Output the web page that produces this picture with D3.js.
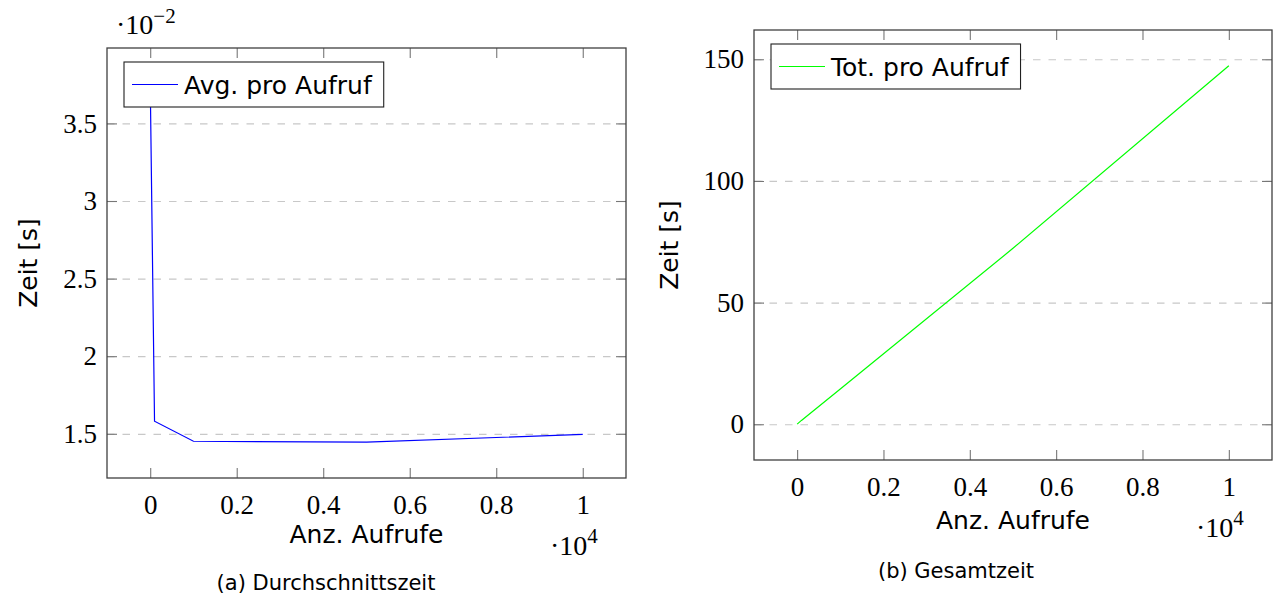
<!DOCTYPE html>
<html>
<head>
<meta charset="utf-8">
<script src="https://cdn.jsdelivr.net/npm/d3@7"></script>
<style>
  body { margin: 0; background: #fff; }
  svg { display: block; }
</style>
</head>
<body>
<script>
// measurement runs: number of calls and timings
const callCounts = [1, 100, 1000, 5000, 10000];
const avgPerCall = [0.03755, 0.01581, 0.01452, 0.01446, 0.01496];   // seconds
const totPerCall = [0.0375, 1.58, 14.52, 72.3, 147.3];               // seconds

// tick values
const xTicks = [0, 2000, 4000, 6000, 8000, 10000];
const avgTicks = [0.015, 0.02, 0.025, 0.03, 0.035];
const totTicks = [0, 50, 100, 150];

const SERIF = 'Liberation Serif';
const SANS = 'DejaVu Sans';

const W = 1274, H = 606;
const svg = d3.select('body').append('svg').attr('width', W).attr('height', H);

// pgfplots-style "enlarge limits" by 10%
const enlarge = ([a, b]) => [a - 0.1 * (b - a), b + 0.1 * (b - a)];

const panels = [
  {
    left: 107, right: 626, top: 48, bottom: 478,
    values: avgPerCall, ticks: avgTicks, fmt: d => String(+(d * 100).toFixed(2)),
    color: '#0000ff', legend: 'Avg. pro Aufruf', caption: '(a) Durchschnittszeit',
    yLabelX: 37, xLabelY: 543, xExp: [550, 555], yExp: [116, 34], captionX: 326, captionY: 590
  },
  {
    left: 754, right: 1272, top: 30, bottom: 460,
    values: totPerCall, ticks: totTicks, fmt: d => String(d),
    color: '#00ff00', legend: 'Tot. pro Aufruf', caption: '(b) Gesamtzeit',
    yLabelX: 678, xLabelY: 529, xExp: [1196, 537], yExp: null, captionX: 956, captionY: 578
  }
];

function drawPanel(p) {
  const w = p.right - p.left, h = p.bottom - p.top;
  const x = d3.scaleLinear().domain(enlarge(d3.extent(callCounts))).range([p.left, p.right]);
  const y = d3.scaleLinear().domain(enlarge(d3.extent(p.values))).range([p.bottom, p.top]);

  // dashed horizontal grid
  const grid = svg.append('g')
    .attr('transform', `translate(${p.left},0)`)
    .call(d3.axisLeft(y).tickValues(p.ticks).tickSize(-w).tickFormat(''));
  grid.select('.domain').remove();
  grid.selectAll('line').attr('stroke', '#c8c8c8').attr('stroke-width', 1.2).attr('stroke-dasharray', '7.5 8');

  // data line
  const line = d3.line().x((d, i) => x(callCounts[i])).y(d => y(d));
  svg.append('path')
    .datum(p.values)
    .attr('fill', 'none')
    .attr('stroke', p.color)
    .attr('stroke-width', 1.2)
    .attr('d', line);

  // inward ticks on all four sides
  const tickStyle = g => {
    g.select('.domain').remove();
    g.selectAll('line').attr('stroke', '#777').attr('stroke-width', 1.1);
    g.selectAll('text')
      .style('font-family', SERIF)
      .style('font-size', '27px')
      .attr('fill', '#000');
  };
  svg.append('g').attr('transform', `translate(0,${p.bottom})`)
    .call(d3.axisBottom(x).tickValues(xTicks).tickSize(-10).tickPadding(10)
      .tickFormat(d => String(+(d / 1e4).toFixed(1))))
    .call(tickStyle)
    .selectAll('text').attr('dy', '0.95em');
  svg.append('g').attr('transform', `translate(0,${p.top})`)
    .call(d3.axisTop(x).tickValues(xTicks).tickSize(-10).tickFormat(''))
    .call(tickStyle);
  svg.append('g').attr('transform', `translate(${p.left},0)`)
    .call(d3.axisLeft(y).tickValues(p.ticks).tickSize(-10).tickPadding(10).tickFormat(p.fmt))
    .call(tickStyle);
  svg.append('g').attr('transform', `translate(${p.right},0)`)
    .call(d3.axisRight(y).tickValues(p.ticks).tickSize(-10).tickFormat(''))
    .call(tickStyle);

  // frame
  svg.append('rect')
    .attr('x', p.left).attr('y', p.top).attr('width', w).attr('height', h)
    .attr('fill', 'none').attr('stroke', '#404040').attr('stroke-width', 1.3);

  // legend
  const lg = svg.append('g').attr('transform', `translate(${p.left + 17},${p.top + 14})`);
  const box = lg.append('rect').attr('height', 45).attr('fill', '#fff')
    .attr('stroke', '#202020').attr('stroke-width', 1.1);
  lg.append('line').attr('x1', 8).attr('x2', 54).attr('y1', 22.5).attr('y2', 22.5)
    .attr('stroke', p.color).attr('stroke-width', 1.2);
  const lt = lg.append('text').style('font-family', SANS).attr('x', 60).attr('y', 31.5)
    .style('font-size', '25px').text(p.legend);
  box.attr('width', 60 + lt.node().getComputedTextLength() + 12);

  // axis labels
  svg.append('text').style('font-family', SANS).style('font-size', '25px')
    .attr('text-anchor', 'middle')
    .attr('transform', `translate(${p.yLabelX},${(p.top + p.bottom) / 2}) rotate(-90)`)
    .text('Zeit [s]');
  svg.append('text').style('font-family', SANS).style('font-size', '25px')
    .attr('text-anchor', 'middle')
    .attr('x', (p.left + p.right) / 2).attr('y', p.xLabelY)
    .text('Anz. Aufrufe');

  // scale exponents
  const ex = svg.append('text').style('font-family', SERIF).style('font-size', '28px')
    .attr('x', p.xExp[0]).attr('y', p.xExp[1]);
  ex.append('tspan').text('\u00b710');
  ex.append('tspan').style('font-size', '21px').attr('dy', -12).text('4');
  if (p.yExp) {
    const ey = svg.append('text').style('font-family', SERIF).style('font-size', '28px')
      .attr('x', p.yExp[0]).attr('y', p.yExp[1]);
    ey.append('tspan').text('\u00b710');
    ey.append('tspan').style('font-size', '21px').attr('dy', -11).text('\u22122');
  }

  // caption
  svg.append('text').style('font-family', SANS).style('font-size', '21px')
    .attr('text-anchor', 'middle')
    .attr('x', p.captionX).attr('y', p.captionY)
    .text(p.caption);
}

panels.forEach(drawPanel);
</script>
</body>
</html>
